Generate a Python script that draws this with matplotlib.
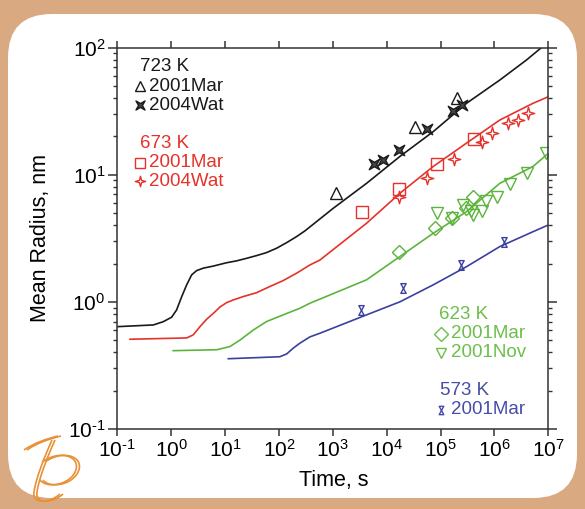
import numpy as np
import matplotlib
matplotlib.use("Agg")
import matplotlib.pyplot as plt
from matplotlib.path import Path
from matplotlib.patches import FancyBboxPatch, PathPatch
from matplotlib.ticker import LogLocator, NullFormatter, FuncFormatter

plt.rcParams['font.family'] = ['Liberation Sans', 'DejaVu Sans']
plt.rcParams['mathtext.fontset'] = 'custom'
plt.rcParams['mathtext.rm'] = 'Liberation Sans'
plt.rcParams['mathtext.it'] = 'Liberation Sans:italic'
plt.rcParams['mathtext.bf'] = 'Liberation Sans:bold'
plt.rcParams['axes.unicode_minus'] = False

# ---------------- data ----------------
# 723 K model curve
t_723 = [0.1, 0.466, 0.713, 1.02, 1.26, 1.57, 1.94, 2.40, 2.97, 3.94, 6.04, 10.7, 16.4, 25.2, 38.5,
         59.1, 90.6, 139, 213, 303, 1019, 4236, 17580, 73100, 3.03e5, 1.26e6, 3.94e6, 7.5e6]
r_723 = [0.638, 0.658, 0.698, 0.757, 0.863, 1.10, 1.36, 1.63, 1.76, 1.84, 1.91, 2.03, 2.10, 2.20, 2.31,
         2.44, 2.64, 2.92, 3.26, 3.61, 5.44, 8.55, 13.9, 21.8, 36.4, 55.5, 79.8, 100]
# 673 K model curve
t_673 = [0.172, 1.94, 2.57, 3.42, 4.56, 6.04, 8.03, 10.7, 14.2, 21.8, 38.5, 68, 120, 213, 376,
         575, 4236, 17580, 73100, 3.03e5, 1.26e6, 5.2e6, 1e7]
r_673 = [0.508, 0.52, 0.55, 0.638, 0.73, 0.81, 0.91, 0.986, 1.035, 1.10, 1.18, 1.32, 1.47, 1.68, 1.95,
         2.13, 4.15, 7.14, 11.6, 17.7, 26.9, 36.4, 41]
# 623 K model curve
t_623 = [1.09, 6.98, 9.27, 12.3, 18.9, 33.4, 59, 120, 245, 376, 4236, 17580, 73100, 3.03e5, 1.26e6, 5.2e6, 1e7]
r_623 = [0.413, 0.42, 0.432, 0.445, 0.50, 0.60, 0.70, 0.79, 0.89, 0.975, 1.49, 2.27, 3.46, 5.12, 8.55, 11.6, 14.7]
# 573 K model curve
t_573 = [11.5, 104, 139, 184, 245, 376, 575, 4236, 17580, 73100, 3.03e5, 1.26e6, 5.2e6, 1e7]
r_573 = [0.357, 0.37, 0.389, 0.432, 0.473, 0.53, 0.566, 0.79, 1.0, 1.36, 1.89, 2.72, 3.56, 4.02]

# experimental points
t_723_mar = [1143, 33100, 1.98e5]
r_723_mar = [7.2, 23.8, 40]
t_723_wat = [5800, 8610, 16630, 56500, 1.71e5, 2.52e5]
r_723_wat = [12.1, 13.1, 15.6, 22.9, 31.7, 35.1]

t_673_mar = [3420, 17060, 86500, 4.15e5]
r_673_mar = [5.06, 7.67, 12.1, 19.1]
t_673_wat = [16630, 55000, 1.77e5, 5.77e5, 9.2e5, 1.8e6, 2.75e6, 4.2e6]
r_673_wat = [6.71, 9.37, 13.2, 18.2, 21.4, 25.3, 26.9, 30.4]

t_623_mar = [16630, 78400, 1.6e5, 3.0e5, 4.03e5]
r_623_mar = [2.48, 3.79, 4.54, 5.5, 6.71]
t_623_nov = [84300, 1.6e5, 2.56e5, 3.6e5, 4.03e5, 5.77e5, 7.0e5, 1.1e6, 1.93e6, 3.94e6, 9.2e6]
r_623_nov = [5.02, 4.6, 5.78, 5.21, 4.82, 5.19, 6.2, 6.7, 8.45, 10.25, 14.7]

t_573_mar = [3300, 20000, 2.4e5, 1.5e6]
r_573_mar = [0.86, 1.28, 1.95, 2.95]

BLACK = '#1a1a1a'
RED = '#e5322b'
GREEN = '#5db43c'
BLUE = '#3a40a0'

# ---------------- markers ----------------
def star4(rot=0.0, k=0.3):
    pts = []
    for i in range(8):
        a = np.pi / 2 + i * np.pi / 4 + rot
        r = 1.0 if i % 2 == 0 else k
        pts.append((r * np.cos(a), r * np.sin(a)))
    pts.append(pts[0])
    codes = [Path.MOVETO] + [Path.LINETO] * 7 + [Path.CLOSEPOLY]
    return Path(pts, codes)

STAR_X = star4(np.pi / 4)
STAR_P = star4(0.0)
HOURGLASS = Path([(-0.55, 1), (0.55, 1), (-0.55, -1), (0.55, -1), (-0.55, 1)],
                 [Path.MOVETO, Path.LINETO, Path.LINETO, Path.LINETO, Path.CLOSEPOLY])

# ---------------- figure ----------------
fig = plt.figure(figsize=(5.85, 5.09), dpi=100)
fig.patch.set_facecolor('#d9aa82')
W, H = 585, 509
frame = FancyBboxPatch((8 / W, 11 / H), (577 - 8) / W, (495 - 11) / H,
                       boxstyle="round,pad=0,rounding_size=0.075",
                       transform=fig.transFigure, facecolor='white',
                       edgecolor='none', zorder=-5, mutation_aspect=W / H)
fig.patches.append(frame)

ax = fig.add_axes([117.3 / W, 1 - 429 / H, (548.3 - 117.3) / W, (429 - 47.5) / H])
ax.set_zorder(5)
ax.set_facecolor('white')
ax.set_xscale('log')
ax.set_yscale('log')
ax.set_xlim(0.1, 1e7)
ax.set_ylim(0.1, 100)

lw = 1.2
ax.plot(t_723, r_723, color=BLACK, lw=lw)
ax.plot(t_673, r_673, color=RED, lw=lw)
ax.plot(t_623, r_623, color=GREEN, lw=lw)
ax.plot(t_573, r_573, color=BLUE, lw=lw)

mew = 1.0
ax.plot(t_723_mar, r_723_mar, ls='none', marker='^', ms=8.5, mfc='none', mec=BLACK, mew=mew)
ax.plot(t_723_wat, r_723_wat, ls='none', marker=STAR_X, ms=7.5, mfc='#444444', mec=BLACK, mew=mew)
ax.plot(t_673_mar, r_673_mar, ls='none', marker='s', ms=8, mfc='none', mec=RED, mew=mew)
ax.plot(t_673_wat, r_673_wat, ls='none', marker=STAR_P, ms=9, mfc='none', mec=RED, mew=mew)
ax.plot(t_623_mar, r_623_mar, ls='none', marker='D', ms=7.5, mfc='none', mec=GREEN, mew=mew)
ax.plot(t_623_nov, r_623_nov, ls='none', marker='v', ms=8, mfc='none', mec=GREEN, mew=mew)
ax.plot(t_573_mar, r_573_mar, ls='none', marker=HOURGLASS, ms=7, mfc='none', mec=BLUE, mew=mew)

# ---------------- axes styling ----------------
for s in ax.spines.values():
    s.set_color('#333333')
    s.set_linewidth(1.1)

def pow_fmt(v, pos):
    e = int(round(np.log10(v)))
    es = str(e).replace('-', '\u2010')
    return r'$\mathdefault{10^{%s}}$' % es

ax.xaxis.set_major_locator(LogLocator(base=10, numticks=20))
ax.xaxis.set_minor_locator(LogLocator(base=10, subs=[], numticks=20))
ax.yaxis.set_major_locator(LogLocator(base=10, numticks=20))
ax.yaxis.set_minor_locator(LogLocator(base=10, subs=np.arange(2, 10), numticks=20))
ax.xaxis.set_major_formatter(FuncFormatter(pow_fmt))
ax.yaxis.set_major_formatter(FuncFormatter(pow_fmt))
ax.yaxis.set_minor_formatter(NullFormatter())
ax.tick_params(axis='both', which='major', direction='out', length=6.5, width=1.1,
               color='#333333', labelsize=15, top=True, right=True, pad=2)
ax.tick_params(axis='x', which='major', length=5)
ax.tick_params(axis='y', which='minor', direction='out', length=3, width=1.0,
               color='#333333', right=True)
ax.set_xlabel('Time, s', fontsize=15.5)
ax.set_ylabel('Mean Radius, nm', fontsize=15.5)
ax.xaxis.set_label_coords(0.503, -0.108)
ax.yaxis.set_label_coords(-0.153, 0.5)

# ---------------- in-plot legends ----------------
def ax_xy(px, py):
    return ((px - 117.3) / 431.0, (429 - py) / 381.5)

def label(px, py, s, color):
    x, y = ax_xy(px, py)
    ax.text(x, y, s, transform=ax.transAxes, color=color, fontsize=13.5,
            ha='left', va='center')

def mark(px, py, m, color, ms, fc='none'):
    x, y = ax_xy(px, py)
    ax.plot([x], [y], transform=ax.transAxes, marker=m, ms=ms, mfc=fc,
            mec=color, mew=1.0, ls='none', clip_on=False)

label(139.5, 66.5, '723 K', BLACK)
mark(139.5, 86, '^', BLACK, 7)
label(149, 86, '2001Mar', BLACK)
mark(139.5, 105, STAR_X, BLACK, 6.5, fc='#444444')
label(149, 105, '2004Wat', BLACK)

label(139.5, 143.5, '673 K', RED)
mark(139.5, 162.5, 's', RED, 7)
label(149, 162.5, '2001Mar', RED)
mark(139.5, 181, STAR_P, RED, 7.5)
label(149, 181, '2004Wat', RED)

label(439.5, 314.5, '623 K', '#6cbf4a')
mark(441, 333.5, 'D', '#6cbf4a', 7.5)
label(451.5, 333.5, '2001Mar', '#6cbf4a')
mark(441, 352.5, 'v', '#6cbf4a', 7)
label(451.5, 352.5, '2001Nov', '#6cbf4a')

label(440, 390.5, '573 K', '#474ca8')
mark(441, 409.5, HOURGLASS, '#474ca8', 6)
label(451.5, 409.5, '2001Mar', '#474ca8')

# ---------------- decorative logo ----------------
def fpx(x, y):
    return (x / W, 1 - y / H)

ORANGE = '#e89035'
for dx in (0, 3):
    top = [fpx(24 + dx, 450), fpx(34 + dx, 443), fpx(46 + dx, 439), fpx(58 + dx, 436)]
    fig.patches.append(PathPatch(Path(top, [Path.MOVETO] + [Path.CURVE4] * 3),
                                 transform=fig.transFigure, facecolor='none',
                                 edgecolor=ORANGE, lw=1.2, zorder=1))
    stem = [fpx(52 + dx, 440), fpx(44 + dx, 458), fpx(36 + dx, 478), fpx(34 + dx, 492),
            fpx(32 + dx, 505), fpx(50 + dx, 503), fpx(60 + dx, 494)]
    fig.patches.append(PathPatch(Path(stem, [Path.MOVETO] + [Path.CURVE4] * 6),
                                 transform=fig.transFigure, facecolor='none',
                                 edgecolor=ORANGE, lw=1.2, zorder=1))
    bowl = [fpx(42 + dx, 462), fpx(62 + dx, 448), fpx(84 + dx, 458), fpx(74 + dx, 474),
            fpx(66 + dx, 486), fpx(46 + dx, 488), fpx(40 + dx, 480)]
    fig.patches.append(PathPatch(Path(bowl, [Path.MOVETO] + [Path.CURVE4] * 6),
                                 transform=fig.transFigure, facecolor='none',
                                 edgecolor=ORANGE, lw=1.2, zorder=1))

fig.savefig('out.png', dpi=100, facecolor=fig.get_facecolor())
